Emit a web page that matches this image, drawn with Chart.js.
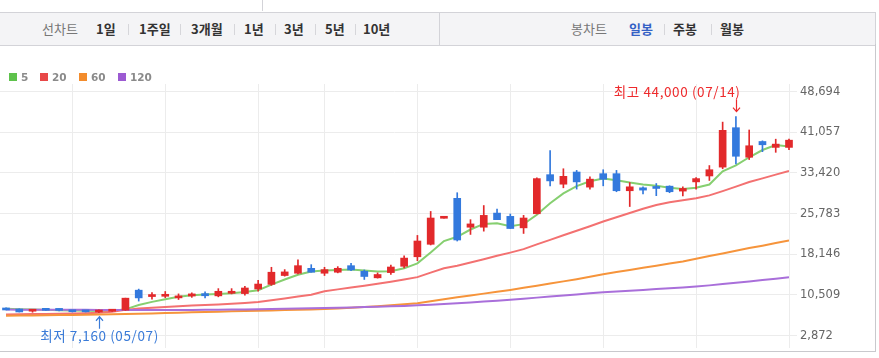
<!DOCTYPE html>
<html><head><meta charset="utf-8">
<script src="https://cdn.jsdelivr.net/npm/chart.js@4.4.1/dist/chart.umd.min.js"></script>
<style>
html,body{margin:0;padding:0;background:#fff;}
body{width:879px;height:358px;position:relative;overflow:hidden;font-family:"Noto Sans CJK KR","Noto Sans",sans-serif;}
#c{position:absolute;left:0;top:0;z-index:0;}
#frame{position:absolute;left:-1px;top:44px;width:876px;height:307px;border-right:1px solid #c9c9cd;border-bottom:1px solid #c9c9cd;z-index:2;pointer-events:none;}
#tab{position:absolute;left:0;top:0;width:262px;height:11px;border-right:1px solid #d3d3d8;z-index:2;}
#band{position:absolute;left:0;top:12px;width:875px;height:32px;background:#f4f4f6;border-top:1px solid #d3d3d8;border-bottom:1px solid #d3d3d8;border-right:1px solid #d3d3d8;z-index:2;}
#div{position:absolute;left:439px;top:0;width:1px;height:32px;background:#d3d3d8;}
.t{position:absolute;top:0;line-height:32px;font-size:13px;white-space:nowrap;color:#333;font-weight:bold;}
.g{color:#777;font-weight:normal;}
.b{color:#3461c5;}
.s{position:absolute;top:11px;width:1px;height:11px;background:#d6d6da;}
#legend{position:absolute;left:0;top:70px;height:14px;z-index:2;}
.lb{position:absolute;top:3px;width:8px;height:8px;}
.lt{position:absolute;top:0;font:bold 10.5px "DejaVu Sans",sans-serif;color:#8a8a8a;line-height:14px;}
</style>
</head>
<body>
<canvas id="c" width="879" height="358"></canvas>
<div id="tab"></div>
<div id="band">
  <span class="t g" style="left:42px">선차트</span>
  <span class="t" style="left:96px">1일</span>
  <span class="s" style="left:128px"></span>
  <span class="t" style="left:139px">1주일</span>
  <span class="s" style="left:180px"></span>
  <span class="t" style="left:191px">3개월</span>
  <span class="s" style="left:234px"></span>
  <span class="t" style="left:244px">1년</span>
  <span class="s" style="left:275px"></span>
  <span class="t" style="left:284px">3년</span>
  <span class="s" style="left:315px"></span>
  <span class="t" style="left:325px">5년</span>
  <span class="s" style="left:355px"></span>
  <span class="t" style="left:363px">10년</span>
  <div id="div"></div>
  <span class="t g" style="left:571px">봉차트</span>
  <span class="t b" style="left:629px">일봉</span>
  <span class="s" style="left:664px"></span>
  <span class="t" style="left:673px">주봉</span>
  <span class="s" style="left:711px"></span>
  <span class="t" style="left:720px">월봉</span>
</div>
<div id="legend"></div>
<div id="frame"></div>
<script>
// ---- data ----
const opens  = [8050,7860,7450,7920,7700,7450,7450,7300,7450,7650,
                11400,10200,10250,9950,10300,10750,10330,10820,10760,11625,
                12490,14150,14580,15500,14580,14770,16000,14960,13720,14700,
                15883,17672,20015,24900,28650,23220,23220,25875,25260,23100,
                25750,33090,31300,33585,30750,33276,33276,30069,30623,30870,
                30932,30007,31734,32844,34510,41911,36360,39320,38210,38210];
const highs  = [8100,7900,7700,7950,7850,7500,7480,7700,7550,9900,
                11600,10950,11150,10700,10900,11070,11690,11690,12120,13230,
                15700,15260,17100,16190,15700,15820,16430,15200,14650,16130,
                17860,21680,26183,24950,29700,24640,27293,26615,25700,25443,
                32500,37594,34200,33890,32660,34016,33893,31610,30808,31425,
                31000,30808,32536,34800,42960,44000,41480,39444,39753,39753];
const lows   = [7680,7300,7250,7600,7500,7300,7300,7160,7400,7600,
                9350,9700,10000,9650,10050,9960,10150,10700,10450,11190,
                12300,14030,14460,14770,14150,14650,15080,13410,13660,14340,
                15575,16930,19890,24900,20630,21865,22480,24640,22976,22050,
                25700,30995,30625,30380,30377,30993,29884,27108,29452,29143,
                29700,29082,30377,32000,34200,35126,35928,37409,37285,37779];
const closes = [7680,7310,7650,7620,7600,7350,7330,7650,7520,9900,
                9950,10450,10450,10300,10700,10350,11190,11130,11810,12550,
                14770,14830,16000,14770,15260,15510,15200,13970,14340,15750,
                17425,20632,24950,24950,20820,23840,25443,24640,22976,24950,
                32350,31920,32783,31735,32250,32227,30069,30808,30192,30500,
                29884,30500,32350,34016,41418,36545,38519,38704,38827,39567];
const ma5   = [7900,7800,7750,7700,7650,7600,7550,7500,7500,7800,
               8600,9200,9700,10150,10450,10580,10700,10820,11070,11380,
               12430,13410,14280,14890,15080,15200,15260,15080,14890,14950,
               15500,16440,18470,20630,21430,22790,23840,23960,23400,23800,
               25560,27720,29580,30930,31860,32350,32040,31610,31240,30990,
               30620,30380,30620,31240,33710,34820,36360,37720,38640,38400];
const ma20  = [6850,6880,6910,6940,6970,7000,7050,7150,7350,7700,
               7950,8100,8250,8400,8500,8600,8700,8850,9000,9200,
               9500,9850,10200,10550,11200,11550,11900,12250,12600,13000,
               13400,13850,14700,15500,16000,16600,17200,17850,18450,19100,
               20000,20850,21700,22550,23400,24300,25100,25900,26700,27400,
               27900,28300,28650,29200,30000,30850,31700,32400,33100,33800];
const ma60  = [6600,6630,6660,6690,6720,6750,6790,6830,6870,6920,
               6980,7040,7100,7170,7240,7300,7360,7420,7480,7540,
               7600,7660,7720,7790,7860,7980,8100,8230,8380,8550,
               8750,8950,9300,9700,10050,10400,10750,11100,11450,11850,
               12250,12650,13050,13450,13900,14400,14800,15200,15600,16000,
               16400,16800,17300,17800,18300,18800,19300,19750,20250,20750];
const ma120 = [7750,7740,7730,7720,7710,7700,7700,7690,7690,7690,
               7690,7690,7690,7690,7690,7700,7720,7750,7780,7820,
               7860,7900,7950,8000,8050,8100,8160,8220,8290,8360,
               8450,8550,8680,8820,8960,9100,9250,9400,9600,9800,
               10000,10200,10400,10600,10800,11000,11150,11300,11450,11600,
               11750,11900,12100,12300,12550,12800,13050,13300,13550,13850];
const yTicks = [2872,10509,18146,25783,33420,41057,48694];
const gridIdx = [5,12,19,24,31,38,45,52,59];
const maNames = ['5','20','60','120'];
const highDate = '07/14';
const lowDate = '05/07';

// ---- styles ----
const RED = '#e2292b', BLUE = '#3379dd';
const maColors = ['#86cf70','#f37171','#f6943b','#a96fda'];
const legColors = ['#5ec24c','#e84848','#f38c2c','#9c5ad2'];

// legend
const leg = document.getElementById('legend');
const legX = [9,40,79,118];
maNames.forEach((n,k)=>{
  const b=document.createElement('div');b.className='lb';b.style.left=legX[k]+'px';b.style.background=legColors[k];leg.appendChild(b);
  const t=document.createElement('div');t.className='lt';t.style.left=(legX[k]+12)+'px';t.textContent=n;leg.appendChild(t);
});

const idx = opens.map((_,i)=>i);
const col = c => closes[c.dataIndex] >= opens[c.dataIndex] ? RED : BLUE;
const fmt = v => Math.round(v).toLocaleString('en-US');

const marks = {
  id:'marks',
  afterDatasetsDraw(chart){
    const {ctx, scales:{x,y}} = chart;
    let hi=0, lo=0;
    highs.forEach((v,i)=>{ if(v>highs[hi]) hi=i; });
    lows.forEach((v,i)=>{ if(v<lows[lo]) lo=i; });
    ctx.save();
    ctx.font = '13.5px "Noto Sans CJK KR", sans-serif';
    if ('letterSpacing' in ctx) ctx.letterSpacing = '0.6px';
    ctx.lineWidth = 1.2;
    // high
    let px = Math.round(x.getPixelForValue(hi))+0.5, py = y.getPixelForValue(highs[hi]);
    ctx.strokeStyle = ctx.fillStyle = '#ee2a2c';
    ctx.beginPath(); ctx.moveTo(px, py-17); ctx.lineTo(px, py-5);
    ctx.moveTo(px-3.5, py-9); ctx.lineTo(px, py-5); ctx.lineTo(px+3.5, py-9); ctx.stroke();
    ctx.textAlign='right'; ctx.textBaseline='middle';
    ctx.fillText('최고 '+fmt(highs[hi])+' ('+highDate+')', px+4, py-25);
    // low
    px = Math.round(x.getPixelForValue(lo))+0.5; py = y.getPixelForValue(lows[lo]);
    ctx.strokeStyle = ctx.fillStyle = '#3a7bd8';
    ctx.beginPath(); ctx.moveTo(px, py+16); ctx.lineTo(px, py+4);
    ctx.moveTo(px-3.5, py+8); ctx.lineTo(px, py+4); ctx.lineTo(px+3.5, py+8); ctx.stroke();
    ctx.textAlign='center';
    ctx.fillText('최저 '+fmt(lows[lo])+' ('+lowDate+')', px, py+23);
    ctx.restore();
  }
};

const maArr = [ma5, ma20, ma60, ma120];
const lineSets = maArr.map((arr,k)=>({
  type:'line', label: maNames[k],
  data: idx.map(i=>({x:i, y:arr[i]})),
  borderColor: maColors[k], borderWidth: 2, pointRadius: 0, tension: 0,
  order: 2 + (3-k)
}));

new Chart(document.getElementById('c'), {
  data: {
    datasets: [
      {type:'bar', label:'body', data: idx.map(i=>({x:i, y:[opens[i], closes[i]]})),
       backgroundColor: col, barThickness: 7, grouped: false, minBarLength: 2, order: 0, clip: false},
      {type:'bar', label:'wick', data: idx.map(i=>({x:i, y:[lows[i], highs[i]]})),
       backgroundColor: col, barThickness: 1, grouped: false, order: 1, clip: false},
      ...lineSets
    ]
  },
  options: {
    responsive: false, animation: false,
    layout: {padding: {top: 84, bottom: 6, left: 0, right: 0}},
    plugins: {legend: {display: false}, tooltip: {enabled: false}},
    scales: {
      x: {type:'linear', offset: false, min: -0.452, max: 59,
          afterBuildTicks: s => { s.ticks = gridIdx.map(v=>({value:v})); },
          ticks: {display: false},
          grid: {color:'#ececec', drawTicks: false, offset: false},
          border: {display: false}},
      y: {type:'linear', position:'right', min: 522, max: 50115,
          afterBuildTicks: s => { s.ticks = yTicks.map(v=>({value:v})); },
          afterFit: s => { s.width = 90; },
          ticks: {color:'#666', padding: 3, font: {family:'DejaVu Sans', size: 11.5},
                  callback: v => fmt(v)},
          grid: {color:'#ececec', tickLength: 8, drawTicks: true},
          border: {display: false}}
    }
  },
  plugins: [marks]
});
</script>
</body></html>
